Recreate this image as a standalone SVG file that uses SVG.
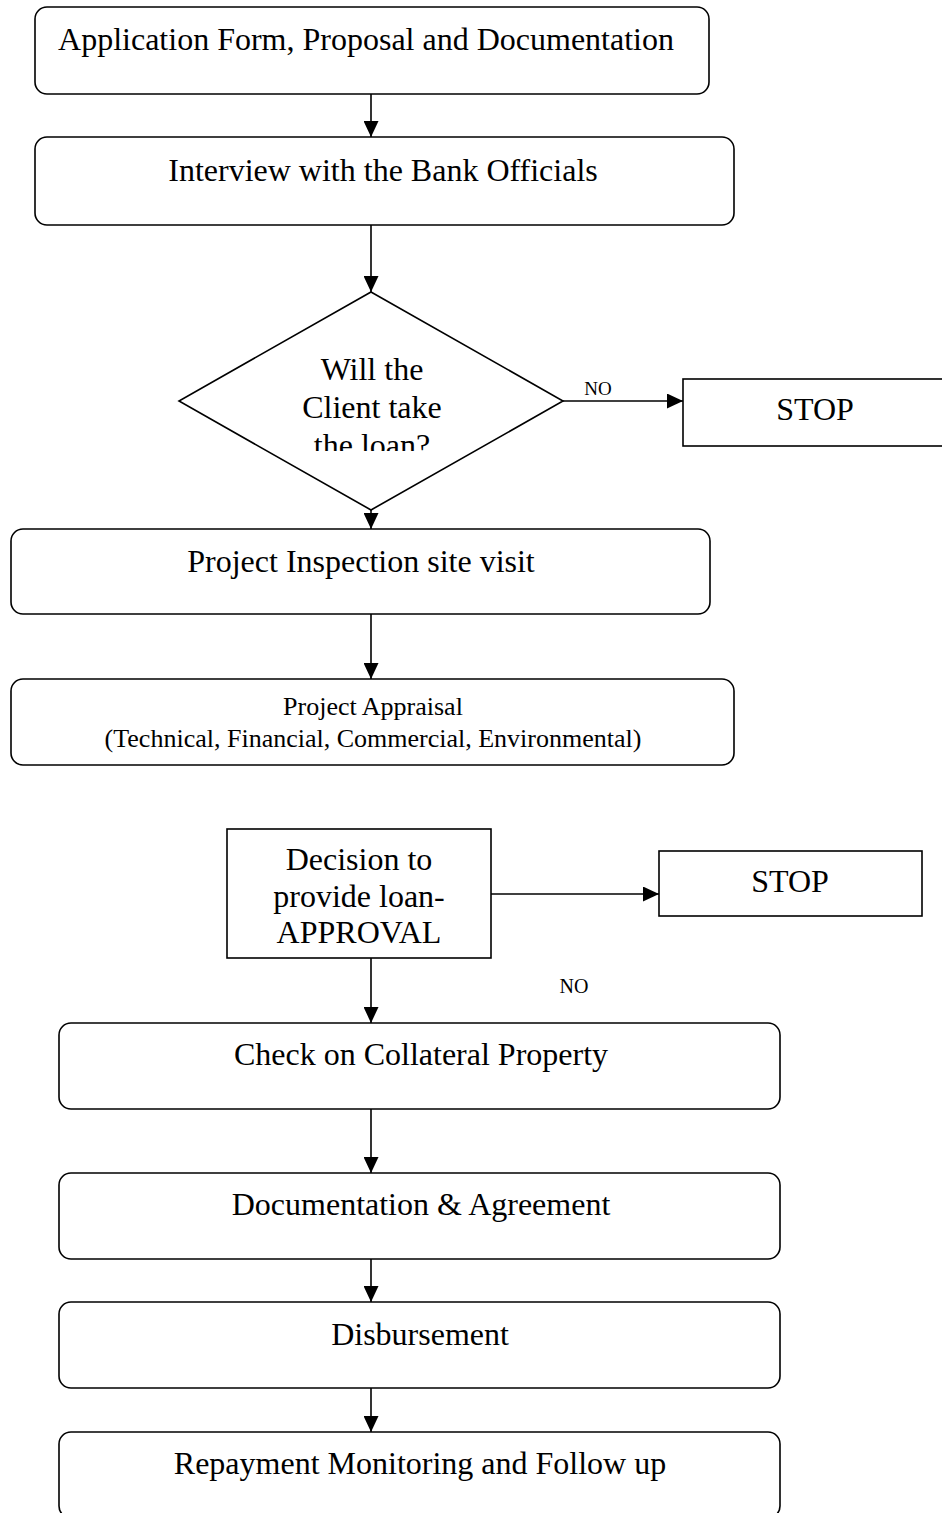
<svg xmlns="http://www.w3.org/2000/svg" width="942" height="1513" viewBox="0 0 942 1513">
<style>
.box{fill:#fff;stroke:#000;stroke-width:1.6}
.t{font-family:"Liberation Serif","Times New Roman",serif;font-size:32px;fill:#000;text-anchor:middle}
.s{font-size:26px}
.n{font-size:19px}
.c{stroke:#000;stroke-width:1.6;fill:none;marker-end:url(#ah)}
</style>
<defs>
<marker id="ah" viewBox="0 0 16 15" refX="16" refY="7.5" markerWidth="16" markerHeight="15" markerUnits="userSpaceOnUse" orient="auto">
<path d="M0,0 L16,7.5 L0,15 z" fill="#000"/>
</marker>
<clipPath id="dclip"><rect x="170" y="280" width="400" height="171"/></clipPath>
</defs>
<rect width="942" height="1513" fill="#fff"/>
<g id="connectors">
<line class="c" x1="371" y1="94" x2="371" y2="137"/>
<line class="c" x1="371" y1="225" x2="371" y2="292"/>
<line class="c" x1="563" y1="401" x2="683" y2="401"/>
<line class="c" x1="371" y1="510" x2="371" y2="529"/>
<line class="c" x1="371" y1="614" x2="371" y2="679"/>
<line class="c" x1="491" y1="894" x2="659" y2="894"/>
<line class="c" x1="371" y1="958" x2="371" y2="1023"/>
<line class="c" x1="371" y1="1109" x2="371" y2="1173"/>
<line class="c" x1="371" y1="1259" x2="371" y2="1302"/>
<line class="c" x1="371" y1="1388" x2="371" y2="1432"/>
</g>
<g id="n1"><rect class="box" x="35" y="7" width="674" height="87" rx="12"/><text class="t" x="366" y="50">Application Form, Proposal and Documentation</text></g>
<g id="n2"><rect class="box" x="35" y="137" width="699" height="88" rx="12"/><text class="t" x="383" y="181">Interview with the Bank Officials</text></g>
<g id="n3"><polygon class="box" points="371,292 563,401 371,510 179,401"/>
<g clip-path="url(#dclip)"><text class="t" x="372" y="380">Will the</text><text class="t" x="372" y="418">Client take</text><text class="t" x="372" y="456">the loan?</text></g></g>
<g id="lbl1"><text class="t n" x="598" y="395">NO</text></g>
<g id="n4"><rect class="box" x="683" y="379" width="270" height="67"/><text class="t" x="815" y="420">STOP</text></g>
<g id="n5"><rect class="box" x="11" y="529" width="699" height="85" rx="12"/><text class="t" x="361" y="572">Project Inspection site visit</text></g>
<g id="n6"><rect class="box" x="11" y="679" width="723" height="86" rx="12"/><text class="t s" x="373" y="715">Project Appraisal</text><text class="t s" x="373" y="747">(Technical, Financial, Commercial, Environmental)</text></g>
<g id="n7"><rect class="box" x="227" y="829" width="264" height="129"/><text class="t" x="359" y="870">Decision to</text><text class="t" x="359" y="907">provide loan-</text><text class="t" x="359" y="943">APPROVAL</text></g>
<g id="n8"><rect class="box" x="659" y="851" width="263" height="65"/><text class="t" x="790" y="892">STOP</text></g>
<g id="lbl2"><text class="t n" x="574" y="993" style="font-size:20px">NO</text></g>
<g id="n9"><rect class="box" x="59" y="1023" width="721" height="86" rx="12"/><text class="t" x="421" y="1065">Check on Collateral Property</text></g>
<g id="n10"><rect class="box" x="59" y="1173" width="721" height="86" rx="12"/><text class="t" x="421" y="1215">Documentation &amp; Agreement</text></g>
<g id="n11"><rect class="box" x="59" y="1302" width="721" height="86" rx="12"/><text class="t" x="420" y="1345">Disbursement</text></g>
<g id="n12"><rect class="box" x="59" y="1432" width="721" height="86" rx="12"/><text class="t" x="420" y="1474">Repayment Monitoring and Follow up</text></g>
</svg>
